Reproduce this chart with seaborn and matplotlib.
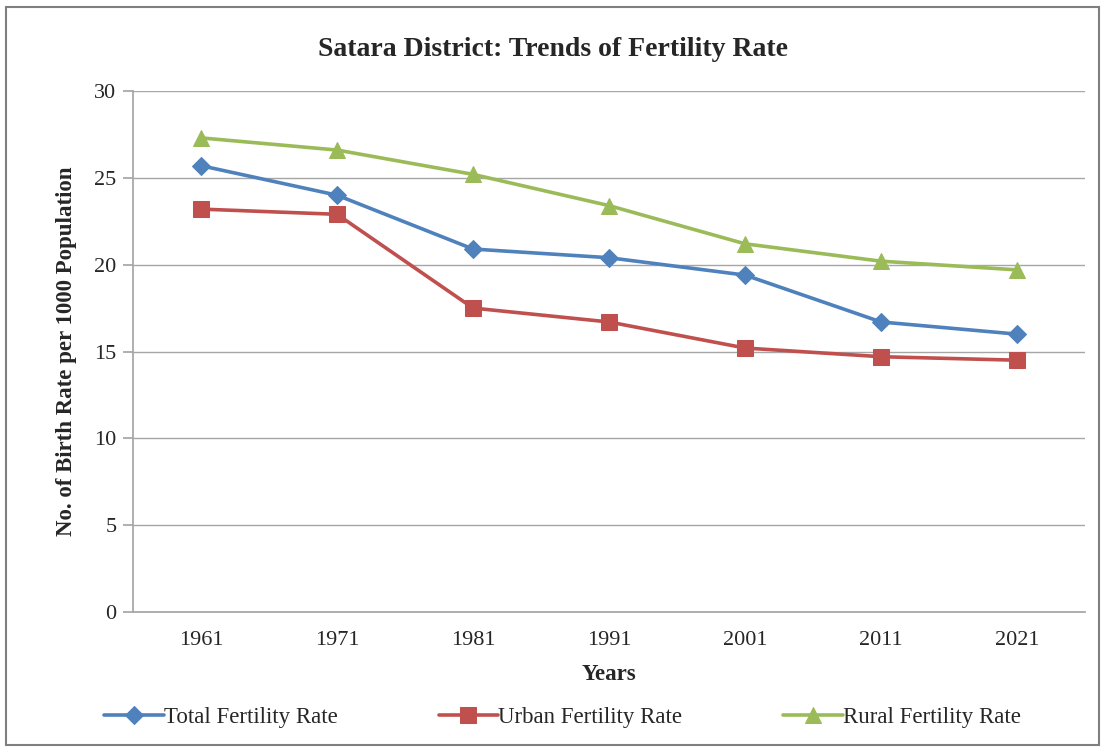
import matplotlib
matplotlib.use("Agg")
import matplotlib.pyplot as plt
import seaborn as sns
import pandas as pd
from matplotlib.patches import Rectangle

years = ["1961", "1971", "1981", "1991", "2001", "2011", "2021"]
total_rate = [25.7, 24.0, 20.9, 20.4, 19.4, 16.7, 16.0]
urban_rate = [23.2, 22.9, 17.5, 16.7, 15.2, 14.7, 14.5]
rural_rate = [27.3, 26.6, 25.2, 23.4, 21.2, 20.2, 19.7]
series_names = ["Total Fertility Rate", "Urban Fertility Rate", "Rural Fertility Rate"]
y_ticks = [0, 5, 10, 15, 20, 25, 30]

sns.set_theme(style="white")
plt.rcParams["font.family"] = ["Liberation Serif", "DejaVu Serif"]

df = pd.DataFrame({
    "Years": years * 3,
    "value": total_rate + urban_rate + rural_rate,
    "series": [series_names[0]] * 7 + [series_names[1]] * 7 + [series_names[2]] * 7,
})

colors = {series_names[0]: "#4F81BD", series_names[1]: "#C0504D", series_names[2]: "#9BBB59"}
markers = {series_names[0]: "D", series_names[1]: "s", series_names[2]: "^"}
msizes = {series_names[0]: 9, series_names[1]: 11, series_names[2]: 12}

fig = plt.figure(figsize=(11.05, 7.49), dpi=100)
ax = fig.add_axes([0.1204, 0.1829, 0.8616, 0.6956])

for name in series_names:
    sub = df[df["series"] == name]
    sns.lineplot(data=sub, x="Years", y="value", ax=ax, color=colors[name],
                 marker=markers[name], markersize=msizes[name], markeredgecolor=colors[name],
                 linewidth=2.6, label=name, sort=False)

ax.set_xlim(-0.5, 6.5)
ax.set_ylim(0, 30)
ax.set_yticks(y_ticks)
ax.yaxis.grid(True, color="#A6A6A6", linewidth=1.0)
ax.xaxis.grid(False)
for s in ["top", "right"]:
    ax.spines[s].set_visible(False)
ax.spines["left"].set_color("#A6A6A6")
ax.spines["bottom"].set_color("#A6A6A6")
ax.tick_params(axis="y", which="both", left=True, length=7, color="#A6A6A6", labelsize=16, pad=5)
ax.tick_params(axis="x", bottom=False, labelsize=16, pad=8)
for lbl in ax.get_xticklabels() + ax.get_yticklabels():
    lbl.set_color("#262626")

ax.set_xlabel("Years", fontsize=16.5, fontweight="bold", labelpad=10)
ax.set_ylabel("No. of Birth Rate per 1000 Population", fontsize=16.5, fontweight="bold", labelpad=12)
fig.suptitle("Satara District: Trends of Fertility Rate", fontsize=20, fontweight="bold", y=0.95)

handles, labels = ax.get_legend_handles_labels()
ax.legend_.remove()
fig.legend(handles, labels, loc="center", bbox_to_anchor=(0.509, 0.042), ncol=3, frameon=False,
           fontsize=16.5, handlelength=2.6, handletextpad=0.0, columnspacing=4.4)

fig.patches.append(Rectangle((0.005, 0.005), 0.99, 0.985, transform=fig.transFigure,
                             fill=False, edgecolor="#7F7F7F", linewidth=1.5))

fig.savefig("out.png", dpi=100)
